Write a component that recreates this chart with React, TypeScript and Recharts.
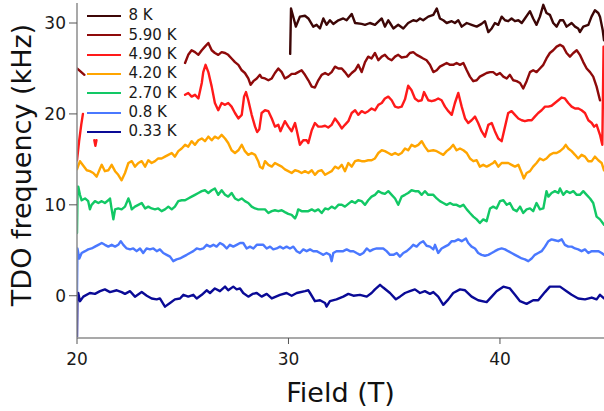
import React from 'react';
import { LineChart, Line, XAxis, YAxis, Legend, Label } from 'recharts';

type Pt = [number, number];

const seriesNames = ['8 K', '5.90 K', '4.90 K', '4.20 K', '2.70 K', '0.8 K', '0.33 K'];
const seriesColors = ['#3d0606', '#8e0a0a', '#ff1a1a', '#ffa500', '#12c865', '#4a78ff', '#0a0a96'];
const fieldTicks = [20, 30, 40];
const freqTicks = [0, 10, 20, 30];

const data8K: Pt[] = [
  [30.08, 26.6], [30.12, 31.6], [30.35, 29.6], [30.54, 30.7], [30.78, 30.8], [30.94, 30.5], [31.17, 29.6], [31.33, 29.8],
  [31.49, 29.4], [31.65, 30.5], [31.8, 29.8], [31.96, 30.3], [32.12, 29.9], [32.36, 30.3], [32.59, 30.5], [32.75, 30.3],
  [32.99, 31.0], [33.15, 30.0], [33.46, 29.9], [33.62, 29.8], [33.85, 30.0], [34.09, 29.8], [34.41, 30.5], [34.56, 29.6],
  [34.72, 30.3], [34.8, 30.0], [34.96, 29.4], [35.19, 29.8], [35.43, 29.4], [35.66, 30.0], [35.9, 30.3], [36.06, 30.2],
  [36.22, 30.5], [36.37, 30.3], [36.61, 30.7], [36.85, 30.9], [37.01, 31.6], [37.16, 30.5], [37.32, 30.3], [37.48, 30.0],
  [37.72, 30.2], [37.87, 30.0], [38.03, 30.3], [38.19, 29.6], [38.43, 30.0], [38.66, 29.8], [38.9, 29.6], [39.13, 29.9],
  [39.29, 30.2], [39.45, 29.0], [39.61, 29.4], [39.76, 30.0], [39.92, 29.8], [40.08, 30.7], [40.24, 30.3], [40.39, 30.2],
  [40.55, 30.5], [40.71, 30.2], [40.87, 30.3], [41.03, 30.0], [41.18, 30.5], [41.42, 31.3], [41.57, 30.5], [41.73, 29.8],
  [41.89, 30.7], [42.05, 32.0], [42.2, 31.1], [42.36, 30.9], [42.52, 30.0], [42.68, 29.6], [42.84, 30.3], [42.99, 30.3],
  [43.15, 29.6], [43.39, 30.0], [43.55, 29.6], [43.7, 29.4], [43.78, 29.0], [43.94, 29.6], [44.18, 29.8], [44.33, 30.7],
  [44.49, 31.4], [44.65, 31.1], [44.73, 30.7], [44.86, 29.2], [44.92, 28.1],
];

const data590KStart: Pt[] = [[20.0, 25.0], [20.15, 24.7], [20.35, 24.3]];
const data590KMain: Pt[] = [
  [25.11, 25.6], [25.26, 26.5], [25.42, 27.0], [25.58, 26.8], [25.74, 26.5], [25.9, 27.0], [26.05, 27.4], [26.21, 27.8],
  [26.37, 27.0], [26.52, 26.7], [26.68, 26.5], [26.84, 26.8], [27.0, 26.7], [27.15, 26.5], [27.31, 26.1], [27.47, 25.7],
  [27.63, 25.4], [27.79, 24.8], [27.94, 24.5], [28.1, 23.9], [28.21, 23.2], [28.34, 23.6], [28.5, 23.9], [28.65, 24.3],
  [28.73, 24.0], [28.89, 23.9], [29.05, 23.7], [29.21, 23.9], [29.36, 24.5], [29.52, 25.0], [29.68, 24.6], [29.83, 23.9],
  [29.99, 24.1], [30.15, 24.4], [30.31, 24.4], [30.46, 24.6], [30.62, 24.8], [30.78, 24.3], [30.94, 23.7], [31.1, 23.0],
  [31.25, 22.9], [31.41, 23.7], [31.57, 24.3], [31.73, 24.5], [31.88, 24.3], [32.04, 24.6], [32.2, 25.2], [32.36, 25.0],
  [32.52, 25.0], [32.67, 24.6], [32.83, 24.1], [32.99, 24.5], [33.15, 24.8], [33.3, 25.4], [33.46, 24.6], [33.62, 25.7],
  [33.77, 26.3], [33.93, 26.1], [34.09, 26.7], [34.25, 25.9], [34.41, 26.3], [34.56, 26.5], [34.72, 26.1], [34.88, 25.9],
  [35.04, 26.3], [35.19, 26.5], [35.35, 26.2], [35.59, 26.3], [35.74, 26.7], [35.9, 26.8], [36.06, 26.5], [36.22, 26.3],
  [36.37, 26.1], [36.53, 25.9], [36.69, 25.4], [36.85, 24.6], [37.01, 24.8], [37.16, 25.2], [37.32, 25.4], [37.48, 25.6],
  [37.64, 25.4], [37.79, 25.4], [37.95, 25.6], [38.11, 25.4], [38.27, 25.6], [38.43, 24.8], [38.58, 24.1], [38.74, 23.6],
  [38.9, 23.7], [39.05, 24.1], [39.21, 24.3], [39.37, 24.5], [39.53, 24.6], [39.68, 24.6], [39.84, 24.3], [40.0, 24.5],
  [40.16, 24.1], [40.32, 23.9], [40.47, 24.3], [40.63, 23.7], [40.79, 23.6], [40.95, 23.4], [41.1, 22.8], [41.26, 23.6],
  [41.42, 24.6], [41.57, 24.8], [41.73, 24.6], [41.89, 25.0], [42.05, 25.4], [42.2, 26.1], [42.36, 26.7], [42.52, 27.0],
  [42.68, 27.4], [42.84, 27.6], [42.99, 27.4], [43.15, 26.7], [43.31, 26.3], [43.47, 26.7], [43.63, 27.0], [43.78, 26.5],
  [43.94, 25.7], [44.1, 25.0], [44.26, 24.6], [44.41, 24.1], [44.57, 23.0], [44.73, 21.5],
];

const data490KStart: Pt[] = [[20.0, 14.9], [20.1, 17.0], [20.2, 18.8], [20.28, 20.0]];
const data490KBlip: Pt[] = [[20.82, 17.1], [20.87, 16.5], [20.92, 17.1]];
const data490KMain: Pt[] = [
  [25.11, 22.1], [25.26, 22.3], [25.42, 21.9], [25.58, 22.1], [25.74, 21.7], [25.9, 23.4], [25.97, 24.6], [26.08, 25.4],
  [26.21, 24.6], [26.37, 23.0], [26.52, 21.2], [26.68, 20.4], [26.84, 21.2], [27.0, 21.0], [27.15, 21.2], [27.31, 20.8],
  [27.47, 20.1], [27.63, 19.5], [27.79, 19.9], [27.9, 21.9], [27.99, 22.4], [28.1, 21.5], [28.26, 19.9], [28.42, 18.6],
  [28.52, 18.0], [28.62, 18.3], [28.73, 20.1], [28.89, 20.4], [29.05, 20.3], [29.21, 19.5], [29.36, 18.6], [29.52, 18.8],
  [29.62, 18.1], [29.83, 19.2], [29.99, 18.6], [30.15, 18.1], [30.31, 19.0], [30.39, 18.2], [30.54, 16.6], [30.7, 17.1],
  [30.86, 17.1], [30.94, 16.8], [31.1, 18.2], [31.25, 19.0], [31.41, 18.6], [31.57, 18.6], [31.73, 18.7], [31.88, 18.5],
  [32.04, 18.8], [32.2, 19.5], [32.36, 19.0], [32.52, 18.4], [32.67, 18.8], [32.83, 19.2], [32.99, 20.1], [33.15, 20.4],
  [33.3, 19.9], [33.46, 20.3], [33.62, 20.1], [33.77, 20.3], [33.93, 20.6], [34.09, 20.4], [34.25, 21.0], [34.41, 21.2],
  [34.56, 21.7], [34.72, 21.9], [34.88, 21.5], [35.04, 20.8], [35.19, 20.7], [35.35, 20.8], [35.51, 21.6], [35.66, 23.1],
  [35.82, 22.6], [35.98, 21.7], [36.14, 21.4], [36.3, 21.5], [36.41, 22.4], [36.61, 21.5], [36.77, 21.4], [36.93, 21.5],
  [37.08, 21.7], [37.24, 21.5], [37.4, 20.8], [37.56, 20.3], [37.72, 19.9], [37.87, 21.2], [38.03, 22.3], [38.19, 20.8],
  [38.35, 19.5], [38.5, 19.0], [38.66, 19.3], [38.82, 19.7], [38.97, 19.0], [39.13, 18.1], [39.29, 17.5], [39.45, 18.8],
  [39.61, 19.0], [39.76, 18.1], [39.92, 17.3], [40.08, 17.0], [40.24, 18.6], [40.39, 20.1], [40.55, 20.3], [40.71, 19.9],
  [40.87, 19.5], [41.03, 19.3], [41.18, 19.2], [41.34, 19.3], [41.5, 19.3], [41.65, 19.7], [41.81, 20.1], [41.97, 20.4],
  [42.13, 20.8], [42.29, 20.8], [42.44, 20.9], [42.6, 21.2], [42.76, 21.5], [42.92, 21.8], [43.07, 21.7], [43.23, 21.2],
  [43.39, 20.8], [43.55, 20.6], [43.71, 20.6], [43.86, 20.4], [44.02, 20.1], [44.18, 19.3], [44.34, 19.0], [44.45, 18.6],
  [44.57, 18.8], [44.73, 17.7], [44.84, 16.6], [44.9, 27.4],
];

const data420K: Pt[] = [
  [20.0, 13.9], [20.14, 14.8], [20.3, 14.3], [20.46, 13.8], [20.61, 13.7], [20.77, 13.5], [20.93, 13.1], [21.09, 14.0],
  [21.17, 14.4], [21.32, 13.7], [21.48, 13.8], [21.64, 14.4], [21.8, 13.7], [21.95, 13.3], [22.11, 12.7], [22.27, 13.5],
  [22.43, 14.6], [22.59, 14.8], [22.74, 14.2], [22.9, 14.6], [23.06, 14.8], [23.22, 14.2], [23.37, 14.9], [23.53, 14.6],
  [23.69, 14.8], [23.84, 15.1], [24.0, 15.1], [24.16, 15.3], [24.32, 15.5], [24.48, 15.7], [24.63, 15.3], [24.79, 15.9],
  [24.95, 16.2], [25.11, 16.6], [25.26, 16.4], [25.42, 17.0], [25.58, 16.6], [25.74, 17.1], [25.9, 17.3], [26.05, 17.0],
  [26.21, 17.5], [26.37, 17.1], [26.52, 17.5], [26.68, 17.3], [26.84, 17.7], [27.0, 17.3], [27.15, 16.8], [27.31, 16.0],
  [27.47, 15.7], [27.63, 16.0], [27.79, 16.6], [27.94, 15.9], [28.1, 15.5], [28.26, 15.7], [28.42, 15.5], [28.57, 14.8],
  [28.65, 14.2], [28.78, 14.0], [28.89, 14.8], [29.05, 14.4], [29.21, 14.2], [29.36, 14.6], [29.52, 14.4], [29.68, 14.2],
  [29.83, 13.9], [29.99, 13.7], [30.15, 13.5], [30.31, 13.8], [30.46, 13.7], [30.62, 13.5], [30.78, 13.7], [30.94, 13.5],
  [31.1, 13.8], [31.25, 13.3], [31.41, 13.7], [31.57, 13.8], [31.73, 13.3], [31.88, 13.5], [32.04, 13.7], [32.2, 14.2],
  [32.36, 14.0], [32.52, 14.4], [32.67, 13.7], [32.83, 14.6], [32.99, 14.2], [33.15, 14.8], [33.3, 14.9], [33.46, 14.8],
  [33.62, 14.8], [33.77, 14.9], [33.93, 14.9], [34.09, 15.1], [34.25, 15.7], [34.41, 16.0], [34.56, 15.9], [34.72, 15.7],
  [34.88, 15.5], [35.04, 15.7], [35.19, 15.5], [35.35, 15.7], [35.51, 16.2], [35.66, 16.0], [35.82, 16.6], [35.98, 16.4],
  [36.14, 16.6], [36.3, 17.0], [36.45, 16.4], [36.61, 15.9], [36.85, 16.0], [37.01, 15.9], [37.16, 15.7], [37.32, 15.5],
  [37.48, 15.9], [37.64, 16.2], [37.79, 16.6], [37.95, 16.0], [38.11, 16.2], [38.27, 16.0], [38.43, 15.7], [38.58, 15.1],
  [38.74, 14.8], [38.9, 14.9], [39.05, 14.2], [39.21, 14.4], [39.37, 14.2], [39.53, 14.4], [39.68, 14.6], [39.76, 14.8],
  [39.92, 14.2], [40.08, 14.6], [40.24, 14.6], [40.39, 14.6], [40.55, 14.4], [40.71, 14.2], [40.87, 14.4], [41.03, 13.5],
  [41.13, 12.9], [41.26, 13.5], [41.42, 13.7], [41.57, 14.2], [41.73, 14.6], [41.89, 15.1], [42.05, 14.9], [42.2, 15.1],
  [42.36, 15.5], [42.52, 15.7], [42.68, 15.7], [42.84, 15.9], [42.99, 16.2], [43.11, 16.6], [43.23, 16.2], [43.39, 15.9],
  [43.55, 15.5], [43.7, 15.1], [43.86, 15.5], [44.02, 15.3], [44.18, 14.8], [44.34, 14.8], [44.49, 15.3], [44.65, 14.9],
  [44.81, 14.6], [44.92, 13.8],
];

const data270K: Pt[] = [
  [20.0, 6.9], [20.03, 12.0], [20.06, 12.0], [20.14, 11.1], [20.22, 10.5], [20.38, 10.7], [20.53, 10.4], [20.61, 9.5],
  [20.69, 10.0], [20.85, 10.4], [21.01, 10.2], [21.17, 10.4], [21.32, 10.2], [21.48, 10.5], [21.56, 10.7], [21.64, 9.5],
  [21.72, 8.4], [21.8, 9.5], [21.95, 9.6], [22.11, 9.5], [22.27, 9.8], [22.43, 10.7], [22.51, 10.2], [22.59, 9.5],
  [22.74, 9.8], [22.9, 10.0], [23.06, 10.2], [23.22, 9.6], [23.37, 9.8], [23.53, 9.6], [23.69, 9.5], [23.84, 9.6],
  [24.0, 9.3], [24.16, 9.5], [24.32, 9.8], [24.48, 9.5], [24.63, 9.8], [24.79, 10.4], [24.95, 10.5], [25.11, 10.5],
  [25.26, 10.7], [25.42, 10.9], [25.58, 11.1], [25.74, 11.3], [25.9, 11.5], [26.05, 11.6], [26.21, 11.3], [26.37, 11.6],
  [26.52, 11.8], [26.68, 11.1], [26.84, 11.6], [27.0, 11.1], [27.15, 10.9], [27.31, 11.3], [27.47, 10.7], [27.63, 10.5],
  [27.79, 10.7], [27.94, 10.4], [28.1, 10.2], [28.26, 9.8], [28.42, 9.6], [28.57, 9.5], [28.73, 9.5], [28.89, 9.5],
  [29.05, 9.1], [29.21, 9.3], [29.36, 9.4], [29.52, 9.3], [29.68, 9.4], [29.83, 9.2], [29.99, 9.0], [30.15, 8.9],
  [30.31, 8.5], [30.39, 8.9], [30.46, 9.5], [30.62, 9.3], [30.78, 9.3], [30.94, 9.3], [31.1, 9.5], [31.25, 9.3],
  [31.41, 9.5], [31.57, 9.1], [31.73, 9.6], [31.88, 9.5], [32.04, 9.8], [32.2, 9.6], [32.36, 10.0], [32.52, 10.0],
  [32.67, 9.8], [32.83, 10.1], [32.99, 10.4], [33.15, 10.2], [33.3, 10.5], [33.46, 10.4], [33.62, 10.0], [33.77, 10.5],
  [33.93, 10.9], [34.09, 11.1], [34.25, 11.5], [34.41, 11.3], [34.56, 11.2], [34.72, 11.5], [34.88, 11.1], [35.04, 10.7],
  [35.19, 10.0], [35.35, 10.9], [35.51, 11.1], [35.66, 11.3], [35.82, 11.6], [35.98, 11.5], [36.14, 11.5], [36.3, 11.1],
  [36.45, 11.5], [36.61, 11.1], [36.85, 11.1], [37.01, 10.7], [37.16, 10.4], [37.32, 10.2], [37.48, 10.0], [37.64, 10.2],
  [37.79, 10.0], [37.95, 10.0], [38.11, 9.8], [38.27, 10.0], [38.43, 9.5], [38.58, 9.1], [38.74, 8.7], [38.9, 8.4],
  [39.05, 8.0], [39.21, 8.4], [39.37, 8.2], [39.53, 9.6], [39.68, 9.8], [39.84, 9.6], [40.0, 10.4], [40.16, 10.5],
  [40.32, 10.0], [40.47, 10.2], [40.63, 9.5], [40.79, 9.3], [40.95, 9.8], [41.1, 9.1], [41.26, 9.5], [41.42, 9.6],
  [41.57, 9.3], [41.73, 10.2], [41.89, 9.5], [42.05, 9.6], [42.2, 11.5], [42.29, 10.9], [42.44, 11.3], [42.6, 11.5],
  [42.76, 11.3], [42.84, 11.8], [42.99, 11.1], [43.15, 11.5], [43.31, 11.3], [43.47, 11.5], [43.63, 11.1], [43.78, 11.1],
  [43.94, 11.5], [44.1, 11.1], [44.26, 10.7], [44.41, 10.2], [44.57, 8.7], [44.73, 8.4], [44.92, 7.8],
];

const data08K: Pt[] = [
  [20.0, 0.5], [20.02, 5.2], [20.11, 4.1], [20.22, 4.7], [20.38, 4.9], [20.53, 5.1], [20.69, 5.2], [20.85, 5.4],
  [21.01, 5.6], [21.17, 5.8], [21.32, 5.6], [21.48, 5.4], [21.64, 5.6], [21.8, 5.4], [21.95, 5.6], [22.07, 6.0],
  [22.19, 5.6], [22.35, 5.2], [22.51, 5.1], [22.66, 5.2], [22.82, 4.9], [22.98, 5.2], [23.13, 4.7], [23.29, 5.2],
  [23.45, 5.1], [23.61, 5.2], [23.77, 4.9], [23.92, 5.1], [24.08, 4.7], [24.24, 4.5], [24.4, 4.3], [24.55, 3.8],
  [24.71, 4.0], [24.87, 4.1], [25.03, 4.3], [25.19, 4.5], [25.34, 4.7], [25.5, 4.9], [25.66, 5.2], [25.82, 5.1],
  [25.97, 5.2], [26.13, 5.6], [26.29, 5.4], [26.45, 5.6], [26.6, 5.4], [26.76, 5.8], [26.92, 5.6], [27.08, 5.2],
  [27.23, 5.6], [27.39, 5.4], [27.55, 5.6], [27.71, 5.8], [27.86, 5.8], [28.02, 5.2], [28.18, 5.4], [28.34, 5.2],
  [28.5, 5.6], [28.65, 5.6], [28.81, 5.6], [28.97, 5.2], [29.13, 5.4], [29.28, 5.1], [29.44, 5.2], [29.6, 5.4],
  [29.75, 5.2], [29.91, 5.4], [30.07, 5.2], [30.23, 5.4], [30.39, 4.9], [30.54, 4.7], [30.7, 5.1], [30.86, 4.9],
  [31.02, 5.1], [31.17, 4.9], [31.33, 4.9], [31.49, 4.7], [31.65, 4.5], [31.8, 4.7], [31.96, 4.5], [32.04, 3.8],
  [32.12, 4.7], [32.27, 4.9], [32.43, 4.9], [32.59, 4.9], [32.75, 5.1], [32.91, 4.9], [33.07, 4.9], [33.22, 4.7],
  [33.38, 4.5], [33.54, 4.7], [33.7, 5.2], [33.85, 4.9], [34.01, 5.1], [34.17, 5.2], [34.33, 5.2], [34.48, 5.2],
  [34.64, 4.9], [34.8, 4.5], [34.96, 4.5], [35.12, 4.7], [35.27, 4.3], [35.43, 4.7], [35.59, 4.9], [35.74, 5.2],
  [35.9, 5.6], [36.06, 5.4], [36.22, 5.8], [36.37, 6.0], [36.53, 5.5], [36.69, 5.4], [36.85, 5.1], [36.93, 5.6],
  [37.08, 4.7], [37.24, 5.2], [37.4, 5.4], [37.56, 5.6], [37.72, 6.0], [37.87, 6.0], [38.03, 6.2], [38.19, 6.0],
  [38.39, 6.3], [38.5, 5.8], [38.66, 5.4], [38.82, 5.2], [38.97, 4.7], [39.13, 4.5], [39.29, 4.4], [39.45, 4.5],
  [39.61, 4.7], [39.76, 4.9], [39.92, 5.1], [40.08, 5.2], [40.24, 5.1], [40.39, 4.9], [40.55, 4.7], [40.71, 4.5],
  [40.87, 4.3], [41.03, 4.1], [41.18, 4.0], [41.34, 3.8], [41.5, 4.1], [41.65, 4.5], [41.81, 4.7], [41.97, 4.9],
  [42.13, 5.4], [42.29, 6.0], [42.44, 6.2], [42.6, 6.1], [42.76, 6.0], [42.92, 6.2], [43.07, 5.6], [43.23, 5.4],
  [43.39, 5.4], [43.55, 5.2], [43.7, 5.1], [43.86, 4.9], [44.02, 5.1], [44.18, 4.7], [44.34, 4.9], [44.49, 4.9],
  [44.65, 4.9], [44.81, 4.7], [44.92, 4.5],
];

const data033K: Pt[] = [
  [20.0, -4.5], [20.02, 0.3], [20.06, 0.3], [20.14, -0.6], [20.3, -0.1], [20.61, 0.3], [20.85, 0.2], [21.09, 0.5],
  [21.32, 0.7], [21.56, 0.4], [21.88, 0.6], [22.11, 0.4], [22.27, 0.2], [22.51, 0.5], [22.74, -0.1], [23.06, 0.4],
  [23.3, 0.0], [23.53, -0.3], [23.77, -0.4], [23.92, -0.3], [24.16, -1.2], [24.4, -0.8], [24.63, -0.4], [24.87, -0.3],
  [25.03, 0.1], [25.26, -0.1], [25.5, 0.1], [25.66, -0.3], [25.9, 0.1], [26.13, 0.6], [26.29, 0.3], [26.52, 0.8],
  [26.76, 0.5], [27.0, 1.0], [27.15, 0.6], [27.39, 1.0], [27.55, 0.7], [27.71, 0.8], [27.86, 0.3], [28.1, -0.1],
  [28.3, 0.2], [28.5, 0.3], [28.73, -0.1], [28.97, 0.2], [29.21, -0.3], [29.6, 0.1], [29.91, 0.3], [30.15, 0.0],
  [30.39, 0.3], [30.78, 0.5], [30.94, 0.6], [31.02, 0.3], [31.25, -0.6], [31.49, -0.5], [31.73, -0.8], [31.8, -1.2],
  [31.96, -0.6], [32.27, -0.4], [32.59, -0.1], [32.83, 0.2], [33.07, 0.0], [33.38, 0.1], [33.7, -0.1], [33.93, 0.3],
  [34.09, 0.7], [34.33, 1.2], [34.48, 0.9], [34.64, 0.6], [34.8, 0.3], [35.08, -0.4], [35.27, -0.1], [35.51, 0.3],
  [35.74, 0.5], [35.98, 0.7], [36.22, 0.3], [36.45, 0.5], [36.69, 0.2], [36.85, 0.4], [37.08, -0.1], [37.32, -1.0],
  [37.56, -0.4], [37.79, 0.3], [38.11, 0.7], [38.35, 0.6], [38.66, -0.1], [38.97, -0.5], [39.37, -0.7], [39.61, -0.1],
  [39.84, 0.5], [40.16, 1.0], [40.47, 0.8], [40.71, 0.1], [40.95, -0.6], [41.26, -0.9], [41.57, -0.5], [41.81, -0.5],
  [42.13, 0.4], [42.36, 1.0], [42.84, 1.0], [43.15, 0.5], [43.39, 0.1], [43.7, -0.3], [44.02, -0.4], [44.34, -0.2],
  [44.57, -0.4], [44.73, 0.1], [44.92, -0.3],
];

type Row = { field: number; freq: number | null };

// joins segments, putting a null row between them so the line breaks
function toRows(...segs: Pt[][]): Row[] {
  const rows: Row[] = [];
  segs.forEach((seg, i) => {
    if (i > 0) {
      const prev = segs[i - 1];
      rows.push({ field: (prev[prev.length - 1][0] + seg[0][0]) / 2, freq: null });
    }
    seg.forEach(([field, freq]) => rows.push({ field, freq }));
  });
  return rows;
}

const seriesRows: Row[][] = [
  toRows(data8K),
  toRows(data590KStart, data590KMain),
  toRows(data490KStart, data490KBlip, data490KMain),
  toRows(data420K),
  toRows(data270K),
  toRows(data08K),
  toRows(data033K),
];

const FONT = '"DejaVu Sans", sans-serif';

const renderLegend = () => (
  <div style={{ fontFamily: FONT, fontSize: 15, color: '#1a1a1a', lineHeight: 1 }}>
    {seriesNames.map((name, i) => (
      <div key={name} style={{ display: 'flex', alignItems: 'center', height: 19.33 }}>
        <span style={{ display: 'inline-block', width: 34, height: 2, background: seriesColors[i], marginRight: 8 }} />
        <span>{name}</span>
      </div>
    ))}
  </div>
);

const XTitle = (props: any) => {
  const vb = props.viewBox || {};
  return (
    <text x={vb.x + vb.width / 2} y={vb.y + 63.5} textAnchor="middle" fontFamily={FONT} fontSize={27} fill="#111">
      Field (T)
    </text>
  );
};

const YTitle = (props: any) => {
  const vb = props.viewBox || {};
  const cy = vb.y + vb.height / 2 - 5.5;
  return (
    <text x={31} y={cy} transform={`rotate(-90, 31, ${cy})`} textAnchor="middle" fontFamily={FONT} fontSize={27} fill="#111">
      TDO frequency (kHz)
    </text>
  );
};

export default function App() {
  return (
    <div style={{ position: 'absolute', left: 0, top: 0, width: 604, height: 411, background: '#fff' }}>
      <LineChart width={604} height={411} margin={{ top: 3, right: 0, bottom: 0, left: 0 }}>
        <XAxis
          dataKey="field"
          type="number"
          domain={[20, 44.92]}
          ticks={fieldTicks}
          allowDataOverflow
          height={73}
          axisLine={{ stroke: '#8c8c8c', strokeWidth: 1.5 }}
          tickLine={{ stroke: '#555' }}
          tickSize={6}
          tickMargin={9}
          tick={{ fill: '#1a1a1a', fontSize: 17, fontFamily: FONT }}
        >
          <Label content={<XTitle />} />
        </XAxis>
        <YAxis
          type="number"
          domain={[-4.65, 32.2]}
          ticks={freqTicks}
          allowDataOverflow
          width={77}
          axisLine={{ stroke: '#8c8c8c', strokeWidth: 1.5 }}
          tickLine={{ stroke: '#555' }}
          tickSize={8}
          tickMargin={3}
          tick={{ fill: '#1a1a1a', fontSize: 17, fontFamily: FONT }}
        >
          <Label content={<YTitle />} />
        </YAxis>
        <Legend
          layout="vertical"
          align="center"
          verticalAlign="middle"
          content={renderLegend}
          wrapperStyle={{ left: 86.5, top: 6.3, width: 120 }}
        />
        {seriesNames.map((name, i) => (
          <Line
            key={name}
            name={name}
            data={seriesRows[i]}
            dataKey="freq"
            type="linear"
            stroke={seriesColors[i]}
            strokeWidth={2.4}
            strokeLinejoin="round"
            strokeLinecap="round"
            dot={false}
            activeDot={false}
            connectNulls={false}
            isAnimationActive={false}
          />
        ))}
      </LineChart>
    </div>
  );
}
